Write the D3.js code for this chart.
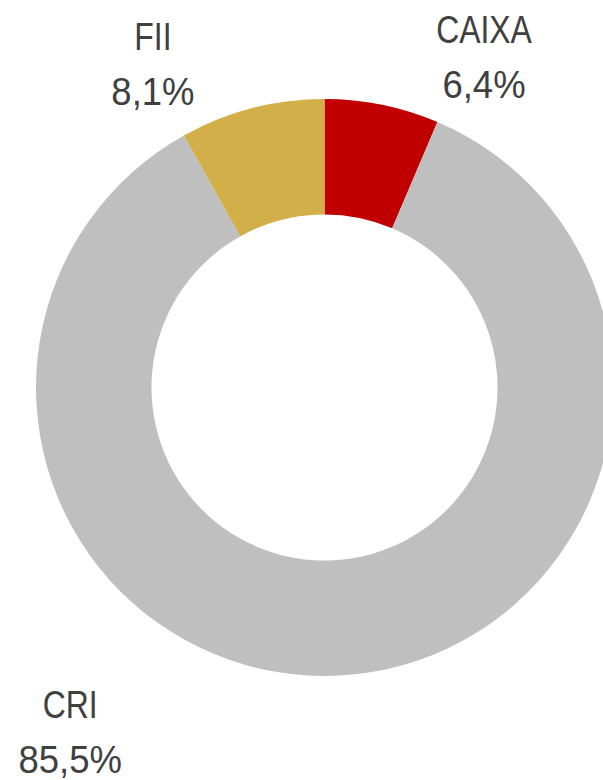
<!DOCTYPE html>
<html lang="pt">
<head>
  <meta charset="UTF-8">
  <title>Alocação</title>
  <style>
    body { margin: 0; background: #fff; }
    svg { display: block; }
    .lbl {
      font-family: "Liberation Sans", Arial, sans-serif;
      font-size: 38px;
      fill: #404040;
    }
  </style>
</head>
<body>
  <svg width="603" height="780"></svg>

  <script src="https://d3js.org/d3.v7.min.js"></script>
  <script>
    // data, clockwise from 12 o'clock
    const categories = ["CAIXA", "CRI", "FII"];
    const shares = [6.4, 85.5, 8.1];
    const colors = ["#C00000", "#BFBFBF", "#D2AF48"];

    const width = 603, height = 780;
    const cx = 324.5, cy = 387.5;
    const outerR = 288.5, innerR = 173;

    // label anchors (angle in degrees from top, distance from centre) - moved out like the original
    const labelSpots = [
      { angle: 26.7, dist: 355 },
      { angle: 215.4, dist: 439 },
      { angle: -28.9, dist: 355 }
    ];

    const svg = d3.select("svg")
      .attr("width", width)
      .attr("height", height);

    const rows = categories.map((c, i) => ({ name: c, value: shares[i], color: colors[i] }));

    const pie = d3.pie()
      .value(d => d.value)
      .sort(null);

    const arc = d3.arc()
      .innerRadius(innerR)
      .outerRadius(outerR);

    const g = svg.append("g")
      .attr("transform", `translate(${cx},${cy})`);

    g.selectAll("path")
      .data(pie(rows))
      .join("path")
      .attr("d", arc)
      .attr("fill", d => d.data.color);

    const fmt = v => d3.format(".1f")(v).replace(".", ",") + "%";

    const lbl = g.selectAll("g.label")
      .data(rows)
      .join("g")
      .attr("class", "label")
      .attr("transform", (d, i) => {
        const a = labelSpots[i].angle * Math.PI / 180;
        const r = labelSpots[i].dist;
        return `translate(${r * Math.sin(a)},${-r * Math.cos(a)})`;
      });

    // the original font is narrower for letters than for digits
    lbl.append("text")
      .attr("class", "lbl")
      .attr("text-anchor", "middle")
      .attr("transform", "translate(0,-27) scale(0.84,1)")
      .text(d => d.name);

    lbl.append("text")
      .attr("class", "lbl")
      .attr("text-anchor", "middle")
      .attr("transform", "translate(0,28) scale(0.96,1)")
      .text(d => fmt(d.value));
  </script>
</body>
</html>
